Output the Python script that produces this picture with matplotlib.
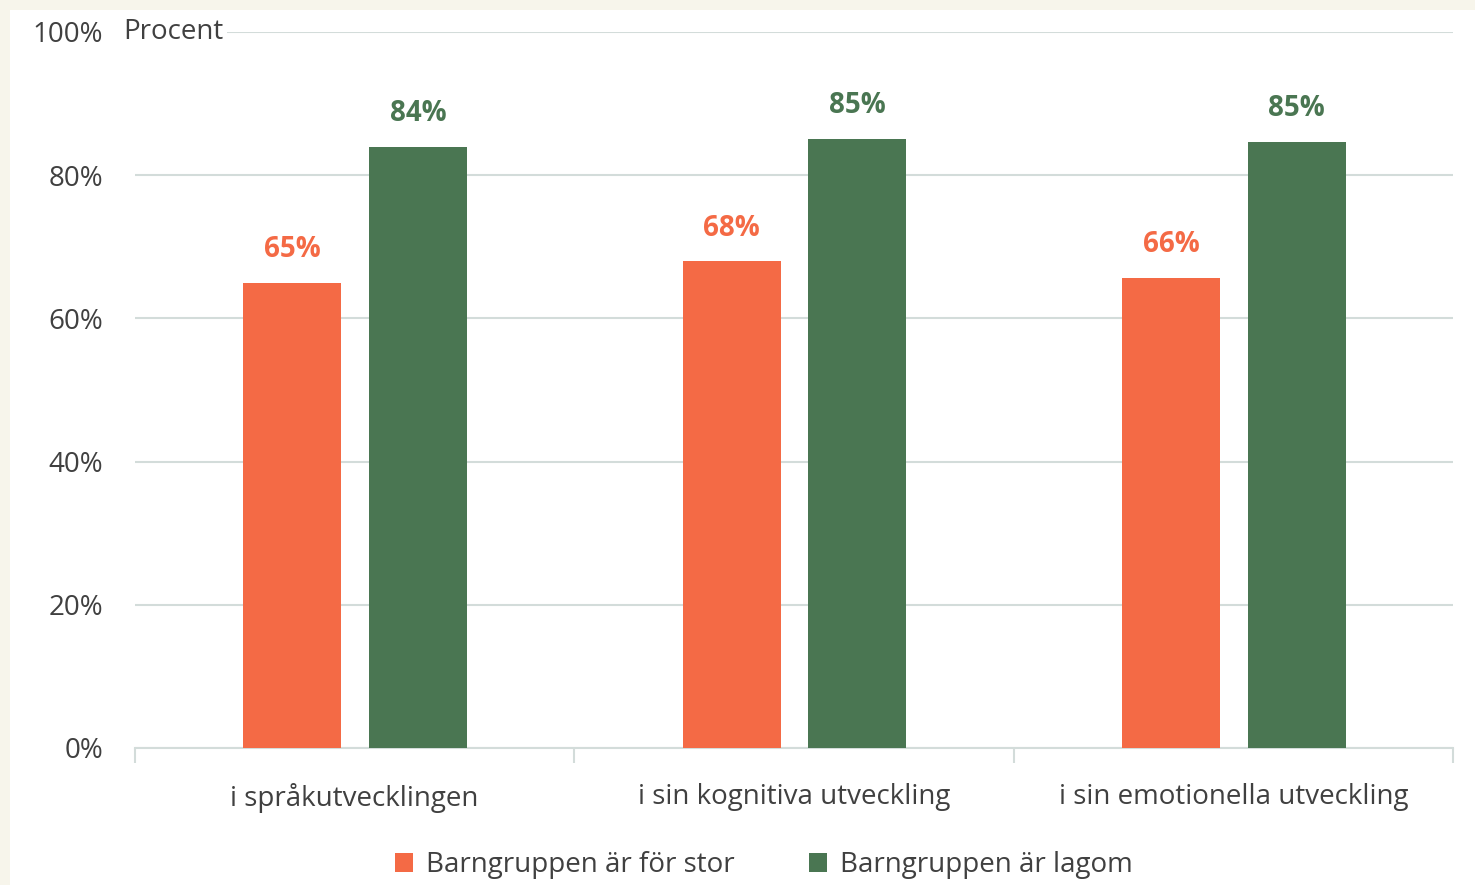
import matplotlib.pyplot as plt
import numpy as np
from matplotlib.patches import Rectangle

categories = ["i språkutvecklingen", "i sin kognitiva utveckling", "i sin emotionella utveckling"]
for_stor = [65, 68, 65.7]
lagom = [84, 85.1, 84.7]
series_names = ["Barngruppen är för stor", "Barngruppen är lagom"]
yticks = [0, 20, 40, 60, 80, 100]

orange = "#F46A45"
green = "#4A7652"
text_col = "#404040"
grid_col = "#D3DCDA"
fs = 20

plt.rcParams['font.family'] = ['Open Sans', 'DejaVu Sans']

fig = plt.figure(figsize=(14.75, 8.85), dpi=100)
fig.patch.set_facecolor("#F7F5EB")
fig.patches.append(Rectangle((10 / 1475, 0), 1, 875 / 885, transform=fig.transFigure,
                             facecolor="white", edgecolor="none", zorder=-10))

ax = fig.add_axes([135 / 1475, 137 / 885, 1318 / 1475, 716 / 885])
ax.set_facecolor("none")

x = np.arange(len(categories))
w = 0.223
b1 = ax.bar(x - 0.142, for_stor, w, color=orange, label=series_names[0], zorder=3)
b2 = ax.bar(x + 0.144, lagom, w, color=green, label=series_names[1], zorder=3)

for bars, col in [(b1, orange), (b2, green)]:
    for r in bars:
        ax.text(r.get_x() + r.get_width() / 2, r.get_height() + 2.6, f"{round(r.get_height())}%",
                ha="center", va="bottom", color=col, fontsize=fs, fontweight="bold")

ax.set_xlim(-0.5, 2.5)
ax.set_ylim(0, 100)
ax.set_yticks(yticks)
ax.set_yticklabels([f"{t}%" for t in yticks])
ax.yaxis.grid(True, color=grid_col, linewidth=1.5, zorder=0)
ax.tick_params(axis="y", length=0, pad=23, labelsize=fs, labelcolor=text_col)

ax.set_xticks(x)
ax.set_xticklabels(categories)
ax.tick_params(axis="x", which="major", length=0, pad=25, labelsize=fs, labelcolor=text_col)
ax.set_xticks([-0.5, 0.5, 1.5, 2.5], minor=True)
ax.tick_params(axis="x", which="minor", length=11, width=1.5, color=grid_col, direction="out")

for s in ["left", "right", "top"]:
    ax.spines[s].set_visible(False)
ax.spines["bottom"].set_color(grid_col)
ax.spines["bottom"].set_linewidth(1.5)

ax.text(123 / 1475, 853 / 885, "Procent", transform=fig.transFigure, ha="left", va="center",
        fontsize=fs, color=text_col, zorder=5,
        bbox=dict(facecolor="white", edgecolor="none", pad=3))

fig.legend(handles=[b1, b2], loc="center", bbox_to_anchor=(764 / 1475, 20 / 885), ncol=2,
           frameon=False, fontsize=fs, labelcolor=text_col, handlelength=0.65, handleheight=0.65,
           handletextpad=0.45, columnspacing=2.7, borderpad=0)

fig.savefig("out.png", dpi=100, facecolor=fig.get_facecolor())
